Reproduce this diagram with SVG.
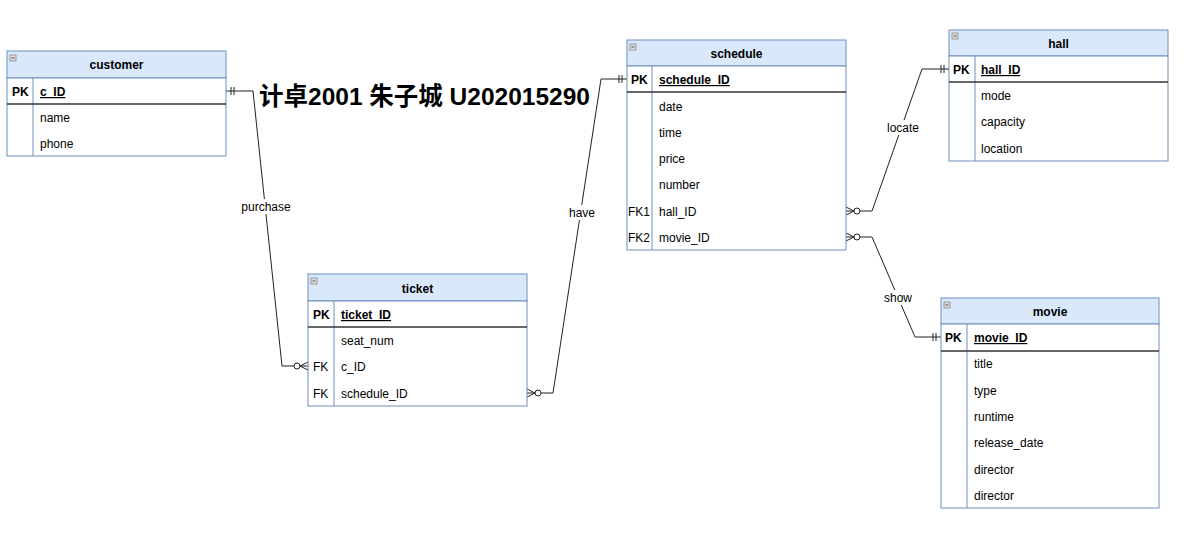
<svg xmlns="http://www.w3.org/2000/svg" width="1187" height="535" viewBox="0 0 1187 535">
<style>
text{font-family:"Liberation Sans",Arial,sans-serif;font-size:12px;fill:#000}
.hd{fill:#dae8fc;stroke:#6c8ebf;stroke-width:1}
.bd{fill:#fff;stroke:#6c8ebf;stroke-width:1}
.dv{stroke:#6c8ebf;stroke-width:1}
.pk{stroke:#333;stroke-width:1.5}
.nm{font-weight:bold;text-anchor:middle}
.b{font-weight:bold}
.u{font-weight:bold;text-decoration:underline}
.ln{fill:none;stroke:#222;stroke-width:1}
.lb{text-anchor:middle}
.lbg{fill:#fff}
.ic{fill:#ddd;stroke:#888;stroke-width:0.8}
.title{font-family:"Liberation Sans","Noto Sans CJK SC",Arial,sans-serif;font-size:24.5px;font-weight:bold}
</style>
<defs>
<g id="icon"><rect class="ic" x="0" y="0" width="6" height="6"/><line x1="1.5" y1="3" x2="4.5" y2="3" stroke="#555" stroke-width="1"/></g>
<g id="one" class="ln"><line x1="-5" y1="-4" x2="-5" y2="4"/><line x1="-8" y1="-4" x2="-8" y2="4"/></g>
<g id="many0"><path class="ln" d="M0,-4 L-8,0 L0,4 M0,0 L-8,0"/><circle cx="-11" cy="0" r="3" fill="#fff" stroke="#222" stroke-width="1"/></g>
</defs>
<rect width="1187" height="535" fill="#fff"/>

<g id="connectors">
<path class="ln" d="M226,91 L253,91 L282,366 L300,366"/>
<path class="ln" d="M535,393 L553,393 L601,79 L627,79"/>
<path class="ln" d="M854,211 L872,211 L922,69 L949,69"/>
<path class="ln" d="M854,237 L872,237 L915,337 L941,337"/>
<use href="#one" transform="translate(226,91) scale(-1,1)"/>
<use href="#many0" transform="translate(308,366)"/>
<use href="#many0" transform="translate(527,393) scale(-1,1)"/>
<use href="#one" transform="translate(627,79)"/>
<use href="#many0" transform="translate(846,211) scale(-1,1)"/>
<use href="#one" transform="translate(949,69)"/>
<use href="#many0" transform="translate(846,237) scale(-1,1)"/>
<use href="#one" transform="translate(941,337)"/>
<rect class="lbg" x="239" y="199" width="54" height="15"/>
<text class="lb" x="266" y="211">purchase</text>
<rect class="lbg" x="567" y="205" width="30" height="15"/>
<text class="lb" x="582" y="217">have</text>
<rect class="lbg" x="885" y="120" width="36" height="15"/>
<text class="lb" x="903" y="132">locate</text>
<rect class="lbg" x="882" y="290" width="32" height="15"/>
<text class="lb" x="898" y="302">show</text>
</g>

<text id="title" class="title" x="259" y="105">计卓2001 朱子城 U202015290</text>

<g id="customer">
<rect class="hd" x="7" y="51" width="219" height="27"/>
<rect class="bd" x="7" y="78" width="219" height="78"/>
<line class="dv" x1="33" y1="78" x2="33" y2="156"/>
<line class="pk" x1="7" y1="104" x2="226" y2="104"/>
<use href="#icon" x="10" y="55"/>
<text class="nm" x="116.5" y="69">customer</text>
<text class="b" x="12" y="96">PK</text>
<text class="u" x="40" y="96">c_ID</text>
<text x="40" y="122">name</text>
<text x="40" y="148">phone</text>
</g>

<g id="ticket">
<rect class="hd" x="308" y="274" width="219" height="27"/>
<rect class="bd" x="308" y="301" width="219" height="105"/>
<line class="dv" x1="334" y1="301" x2="334" y2="406"/>
<line class="pk" x1="308" y1="327" x2="527" y2="327"/>
<use href="#icon" x="311" y="278"/>
<text class="nm" x="417.5" y="293">ticket</text>
<text class="b" x="313" y="319">PK</text>
<text class="u" x="341" y="319">ticket_ID</text>
<text x="341" y="345">seat_num</text>
<text x="313" y="371">FK</text>
<text x="341" y="371">c_ID</text>
<text x="313" y="398">FK</text>
<text x="341" y="398">schedule_ID</text>
</g>

<g id="schedule">
<rect class="hd" x="627" y="40" width="219" height="26"/>
<rect class="bd" x="627" y="66" width="219" height="184"/>
<line class="dv" x1="652" y1="66" x2="652" y2="250"/>
<line class="pk" x1="627" y1="92" x2="846" y2="92"/>
<use href="#icon" x="630" y="44"/>
<text class="nm" x="736.5" y="58">schedule</text>
<text class="b" x="631" y="84">PK</text>
<text class="u" x="659" y="84">schedule_ID</text>
<text x="659" y="111">date</text>
<text x="659" y="137">time</text>
<text x="659" y="163">price</text>
<text x="659" y="189">number</text>
<text x="628" y="216">FK1</text>
<text x="659" y="216">hall_ID</text>
<text x="628" y="242">FK2</text>
<text x="659" y="242">movie_ID</text>
</g>

<g id="hall">
<rect class="hd" x="949" y="30" width="219" height="26"/>
<rect class="bd" x="949" y="56" width="219" height="105"/>
<line class="dv" x1="975" y1="56" x2="975" y2="161"/>
<line class="pk" x1="949" y1="82" x2="1168" y2="82"/>
<use href="#icon" x="952" y="33"/>
<text class="nm" x="1058.5" y="48">hall</text>
<text class="b" x="953" y="74">PK</text>
<text class="u" x="981" y="74">hall_ID</text>
<text x="981" y="100">mode</text>
<text x="981" y="126">capacity</text>
<text x="981" y="153">location</text>
</g>

<g id="movie">
<rect class="hd" x="941" y="298" width="218" height="26"/>
<rect class="bd" x="941" y="324" width="218" height="184"/>
<line class="dv" x1="967" y1="324" x2="967" y2="508"/>
<line class="pk" x1="941" y1="351" x2="1159" y2="351"/>
<use href="#icon" x="944" y="302"/>
<text class="nm" x="1050" y="316">movie</text>
<text class="b" x="945" y="342">PK</text>
<text class="u" x="974" y="342">movie_ID</text>
<text x="974" y="368">title</text>
<text x="974" y="395">type</text>
<text x="974" y="421">runtime</text>
<text x="974" y="447">release_date</text>
<text x="974" y="474">director</text>
<text x="974" y="500">director</text>
</g>
</svg>
